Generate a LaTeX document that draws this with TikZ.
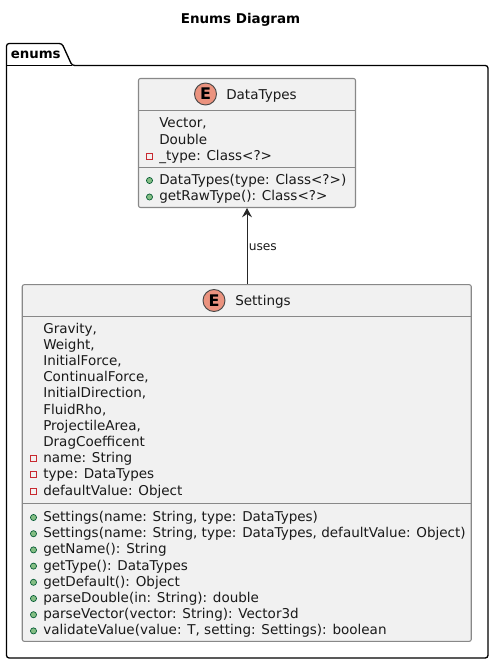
\documentclass[tikz,border=0pt]{standalone}
\usepackage[rgb]{xcolor}
\usepackage{fontspec}
\usetikzlibrary{arrows.meta}
\setmainfont{DejaVu Sans}
\definecolor{boxfill}{HTML}{F1F1F1}
\definecolor{boxline}{HTML}{888888}
\definecolor{spotfill}{HTML}{EB937F}
\definecolor{pubfill}{HTML}{84BE84}
\definecolor{publine}{HTML}{038048}
\definecolor{privline}{HTML}{C82930}
\definecolor{inktext}{HTML}{1A1A1A}
\tikzset{
  classbox/.style={draw=boxline, fill=boxfill, line width=0.8pt, rounded corners=1.5pt, inner sep=0pt},
  spot/.style={circle, draw=black!70!boxfill, fill=spotfill, line width=0.7pt, minimum size=16.5pt, inner sep=0pt,
    font=\fontsize{12}{12}\selectfont\bfseries, text=black},
  row/.style={anchor=base west, inner sep=0pt, text=inktext, font=\fontsize{10.15}{12}\selectfont},
  pubmark/.style={circle, draw=publine!70!black, fill=pubfill, line width=0.5pt, minimum size=4.6pt, inner sep=0pt},
  privmark/.style={rectangle, draw=privline, line width=0.6pt, minimum size=4.6pt, inner sep=0pt},
}
\begin{document}
\begin{tikzpicture}[x=0.75pt, y=-0.75pt]
\useasboundingbox (0,0) rectangle (494,664);

% title and the package outline with its tab
\node[anchor=base, inner sep=0pt, font=\fontsize{10.1}{12}\selectfont\bfseries] (title) at (240.5,23) {Enums Diagram};
\draw[black, line width=1pt, rounded corners=2pt]
  (6.5,65.5) -- (6.5,43.5) -- (62,43.5) -- (72,65.5) -- (488,65.5) -- (488,658) -- (6.5,658) -- cycle;
\draw[black, line width=1pt] (6.5,65.5) -- (72,65.5);
\node[row, text=black, font=\fontsize{10}{12}\selectfont\bfseries] (pkgname) at (10.5,58) {enums};

% enum DataTypes
\node[classbox, minimum width=162.75pt, minimum height=96.75pt] (datatypes) at (247,143) {};
\draw[boxline, line width=0.8pt] (datatypes.west |- 0,110.5) -- (datatypes.east |- 0,110.5);
\draw[boxline, line width=0.8pt] (datatypes.west |- 0,167.5) -- (datatypes.east |- 0,167.5);
\node[spot] (dtspot) at (205.5,94) {E};
\node[row] (dtname) at (226,99) {DataTypes};
\node[row] (dtv) at (159,127) {Vector,};
\node[row] (dtd) at (159,144) {Double};
\node[row] (dtt) at (159,160) {\_type: Class<?>};
\node[privmark] (dttm) at (149.5,156) {};
\node[row] (dtc) at (159,184) {DataTypes(type: Class<?>)};
\node[pubmark] (dtcm) at (149.5,180.5) {};
\node[row] (dtr) at (159,200) {getRawType(): Class<?>};
\node[pubmark] (dtrm) at (149.5,197) {};

% enum Settings
\node[classbox, minimum width=336.75pt, minimum height=267.5pt] (settings) at (246.75,463) {};
\draw[boxline, line width=0.8pt] (settings.west |- 0,316.5) -- (settings.east |- 0,316.5);
\draw[boxline, line width=0.8pt] (settings.west |- 0,503.5) -- (settings.east |- 0,503.5);
\node[spot] (stspot) at (214,300.5) {E};
\node[row] (stname) at (235,305) {Settings};

% constants and fields
\foreach \i/\txt in {0/{Gravity,}, 1/{Weight,}, 2/{InitialForce,}, 3/{ContinualForce,},
  4/{InitialDirection,}, 5/{FluidRho,}, 6/{ProjectileArea,}, 7/{DragCoefficent}}
  \node[row] (stc\i) at (43,333+16.2*\i) {\txt};
\foreach \i/\txt in {8/{name: String}, 9/{type: DataTypes}, 10/{defaultValue: Object}} {
  \node[row] (stf\i) at (43,333+16.2*\i) {\txt};
  \node[privmark] (stfm\i) at (33.5,329+16.2*\i) {};
}

% methods
\foreach \i/\txt in {0/{Settings(name: String, type: DataTypes)},
  1/{Settings(name: String, type: DataTypes, defaultValue: Object)},
  2/{getName(): String}, 3/{getType(): DataTypes}, 4/{getDefault(): Object},
  5/{parseDouble(in: String): double}, 6/{parseVector(vector: String): Vector3d},
  7/{validateValue(value: T, setting: Settings): boolean}} {
  \node[row] (stm\i) at (43,521.5+16.2*\i) {\txt};
  \node[pubmark] (stmm\i) at (33.5,517.5+16.2*\i) {};
}

\draw[-{Stealth[length=7pt, width=7.5pt, inset=2.5pt]}, black!85, line width=0.7pt] (settings.north -| 247,0) -- (datatypes.south -| 247,0);
\node[row, font=\fontsize{9.2}{11}\selectfont] (uses) at (248.5,250) {uses};

\end{tikzpicture}
\end{document}
